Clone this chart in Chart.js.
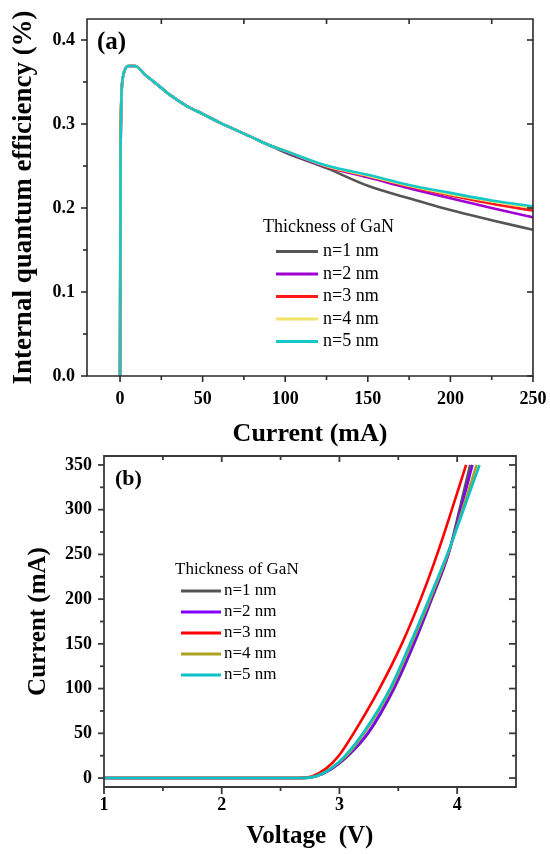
<!DOCTYPE html>
<html>
<head>
<meta charset="utf-8">
<script src="https://cdn.jsdelivr.net/npm/chart.js@4.4.0/dist/chart.umd.min.js"></script>
<style>
  html, body { margin: 0; padding: 0; background: #ffffff; }
  #page { position: relative; width: 550px; height: 854px; }
  .panel { position: absolute; left: 0; }
</style>
</head>
<body>
<div id="page">
  <div class="panel" style="top:0;"><canvas id="iqe" width="550" height="450"></canvas></div>
  <div class="panel" style="top:450px;"><canvas id="iv" width="550" height="404"></canvas></div>
</div>
<script>
// ---------- Panel (a): internal quantum efficiency vs current ----------
const seriesLabels = ['n=1 nm', 'n=2 nm', 'n=3 nm', 'n=4 nm', 'n=5 nm'];

// shared low-current part (mA / %)
const iqeCurrentHead = [0, 0.3, 0.6, 1, 2, 3, 5, 9, 15, 20, 25, 30, 40, 50, 60, 70, 80, 90];
const iqeHead = [0, 0.24, 0.31, 0.34, 0.358, 0.365, 0.369, 0.369, 0.359, 0.351, 0.343, 0.335, 0.322, 0.312, 0.302, 0.293, 0.284, 0.275];
// high-current tails per GaN thickness
const iqeCurrentTail = [100, 125, 150, 175, 200, 225, 250];
const iqeN1 = [0.266, 0.2475, 0.2265, 0.2115, 0.1975, 0.1855, 0.174];
const iqeN2 = [0.2675, 0.249, 0.2365, 0.2235, 0.2115, 0.2, 0.189];
const iqeN3 = [0.268, 0.2495, 0.238, 0.2255, 0.215, 0.205, 0.197];
const iqeN4 = [0.268, 0.25, 0.2385, 0.2265, 0.2165, 0.208, 0.2];
const iqeN5 = [0.268, 0.2505, 0.2395, 0.2275, 0.218, 0.209, 0.202];

const iqeXTicks = [0, 50, 100, 150, 200, 250];
const iqeYTicks = [0, 0.1, 0.2, 0.3, 0.4];
const iqeColors = ['#555555', '#a000d2', '#ff1a1a', '#f2e36a', '#14c8c8'];

// ---------- Panel (b): current vs voltage ----------
const ivCurrent = [0, 0, 2, 10, 25, 50, 100, 150, 200, 250, 300, 350];
const ivVoltN1 = [1, 2.68, 2.8, 2.93, 3.075, 3.245, 3.465, 3.635, 3.785, 3.925, 4.02, 4.11];
const ivVoltN2 = [1, 2.68, 2.8, 2.93, 3.07, 3.24, 3.46, 3.63, 3.78, 3.925, 4.03, 4.13];
const ivVoltN3 = [1, 2.65, 2.77, 2.88, 2.995, 3.12, 3.34, 3.53, 3.69, 3.83, 3.955, 4.076];
const ivVoltN4 = [1, 2.68, 2.8, 2.92, 3.06, 3.21, 3.44, 3.61, 3.77, 3.92, 4.045, 4.165];
const ivVoltN5 = [1, 2.68, 2.8, 2.92, 3.05, 3.2, 3.43, 3.6, 3.76, 3.915, 4.055, 4.19];

const ivXTicks = [1, 2, 3, 4];
const ivYTicks = [0, 50, 100, 150, 200, 250, 300, 350];
const ivColors = ['#555555', '#8000ff', '#ff0000', '#ada21e', '#08c2c8'];

const legendTitle = 'Thickness of GaN';

// ---------- helpers ----------
const SERIF = "'Liberation Serif', 'Times New Roman', serif";

function zipXY(xs, ys) { return xs.map((x, i) => ({ x: x, y: ys[i] })); }

// later series are painted over earlier ones (order: lower value is drawn last)
function makeDatasets(points, colors, width) {
  return points.map((pts, i) => ({
    label: seriesLabels[i],
    data: pts,
    order: points.length - i,
    borderColor: colors[i],
    backgroundColor: colors[i],
    borderWidth: width,
    pointRadius: 0,
    fill: false,
    cubicInterpolationMode: 'monotone'
  }));
}

// frame around the plot plus tick marks (outward on left/bottom, inward on top/right)
const frameTicks = {
  id: 'frameTicks',
  afterDatasetsDraw(chart, args, o) {
    const { ctx, chartArea: a, scales: { x, y } } = chart;
    ctx.save();
    ctx.strokeStyle = o.color;
    ctx.lineWidth = o.width;
    ctx.lineCap = 'butt';
    const seg = (x1, y1, x2, y2) => { ctx.beginPath(); ctx.moveTo(x1, y1); ctx.lineTo(x2, y2); ctx.stroke(); };
    o.left.forEach(([v, len]) => { const p = y.getPixelForValue(v); seg(a.left - len, p, a.left, p); });
    o.right.forEach(([v, len]) => { const p = y.getPixelForValue(v); seg(a.right, p, a.right - len, p); });
    o.bottom.forEach(([v, len]) => { const p = x.getPixelForValue(v); seg(p, a.bottom, p, a.bottom + len); });
    o.top.forEach(([v, len]) => { const p = x.getPixelForValue(v); seg(p, a.top, p, a.top + len); });
    ctx.beginPath();
    ctx.rect(a.left, a.top, a.right - a.left, a.bottom - a.top);
    ctx.stroke();
    // panel tag
    ctx.fillStyle = '#000';
    ctx.font = 'bold ' + o.tagSize + 'px ' + SERIF;
    ctx.textBaseline = 'middle';
    ctx.textAlign = 'left';
    ctx.fillText(o.tag, a.left + o.tagDx, a.top + o.tagDy);
    ctx.restore();
  }
};

// legend block drawn inside the plot, in series order
const innerLegend = {
  id: 'innerLegend',
  afterDatasetsDraw(chart, args, o) {
    const ctx = chart.ctx;
    ctx.save();
    ctx.fillStyle = '#000';
    ctx.textBaseline = 'middle';
    ctx.textAlign = 'left';
    ctx.font = o.size + 'px ' + SERIF;
    ctx.fillText(legendTitle, o.titleX, o.titleY);
    chart.data.datasets.forEach((ds, i) => {
      const yy = o.rowY + i * o.rowGap;
      ctx.strokeStyle = ds.borderColor;
      ctx.lineWidth = o.lineWidth;
      ctx.beginPath();
      ctx.moveTo(o.lineX0, yy);
      ctx.lineTo(o.lineX1, yy);
      ctx.stroke();
      ctx.fillText(ds.label, o.textX, yy);
    });
    ctx.restore();
  }
};

function fixedTicks(values) {
  return (scale) => { scale.ticks = values.map(v => ({ value: v })); };
}

// fixed axis box sizes; edge labels may overhang into the page margins
function fitY(width) {
  return (s) => { s.width = width; s.paddingTop = 0; s.paddingBottom = 0; };
}
function fitX(height) {
  return (s) => { s.height = height; s.paddingLeft = 0; s.paddingRight = 0; };
}

function rangeTicks(from, to, step, len) {
  const out = [];
  for (let v = from; v <= to + 1e-9; v += step) out.push([Math.round(v * 1000) / 1000, len]);
  return out;
}

// ---------- chart (a) ----------
const iqeTails = [iqeN1, iqeN2, iqeN3, iqeN4, iqeN5];
const iqePoints = iqeTails.map(tail => zipXY(iqeCurrentHead.concat(iqeCurrentTail), iqeHead.concat(tail)));

new Chart(document.getElementById('iqe'), {
  type: 'line',
  data: { datasets: makeDatasets(iqePoints, iqeColors, 2.6) },
  options: {
    responsive: false,
    animation: false,
    devicePixelRatio: 1,
    layout: { padding: { left: 0, top: 19, right: 17, bottom: 0 } },
    plugins: {
      legend: { display: false },
      tooltip: { enabled: false },
      frameTicks: {
        color: '#2b2b2b', width: 1.6,
        left: rangeTicks(0, 0.4, 0.1, 6).concat(rangeTicks(0.05, 0.35, 0.1, 4)),
        right: rangeTicks(0, 0.4, 0.1, 6),
        bottom: rangeTicks(0, 250, 50, 6).concat(rangeTicks(25, 225, 50, 4)),
        top: rangeTicks(25, 225, 50, 5),
        tag: '(a)', tagSize: 25, tagDx: 10, tagDy: 24
      },
      innerLegend: {
        size: 18, titleX: 263, titleY: 227,
        rowY: 251.5, rowGap: 22.5, lineX0: 276, lineX1: 318, textX: 323, lineWidth: 3
      }
    },
    scales: {
      x: {
        type: 'linear', min: -20, max: 250,
        afterBuildTicks: fixedTicks(iqeXTicks),
        afterFit: fitX(74),
        grid: { display: false, drawTicks: false },
        border: { display: false },
        ticks: { padding: 13, color: '#000', font: { family: SERIF, size: 18, weight: 'bold' },
                 callback: (v) => String(v) },
        title: { display: true, text: 'Current (mA)', color: '#000',
                 font: { family: SERIF, size: 26, weight: 'bold' }, padding: { top: 0, bottom: 0 } }
      },
      y: {
        type: 'linear', min: 0, max: 0.425,
        afterBuildTicks: fixedTicks(iqeYTicks),
        afterFit: fitY(87),
        grid: { display: false, drawTicks: false },
        border: { display: false },
        ticks: { padding: 12, color: '#000', font: { family: SERIF, size: 18, weight: 'bold' },
                 callback: (v) => Number(v).toFixed(1) },
        title: { display: true, text: 'Internal quantum efficiency (%)', color: '#000',
                 font: { family: SERIF, size: 27, weight: 'bold' }, padding: { top: 8, bottom: 0 } }
      }
    }
  },
  plugins: [frameTicks, innerLegend]
});

// ---------- chart (b) ----------
const ivVolts = [ivVoltN1, ivVoltN2, ivVoltN3, ivVoltN4, ivVoltN5];
const ivPoints = ivVolts.map(v => zipXY(v, ivCurrent));

new Chart(document.getElementById('iv'), {
  type: 'line',
  data: { datasets: makeDatasets(ivPoints, ivColors, 2.6) },
  options: {
    responsive: false,
    animation: false,
    devicePixelRatio: 1,
    layout: { padding: { left: 0, top: 6, right: 34, bottom: 0 } },
    plugins: {
      legend: { display: false },
      tooltip: { enabled: false },
      frameTicks: {
        color: '#3a3a3a', width: 1.8,
        left: rangeTicks(0, 350, 50, 6).concat(rangeTicks(25, 325, 50, 4)),
        right: rangeTicks(0, 350, 50, 7).concat(rangeTicks(25, 325, 50, 4)),
        bottom: rangeTicks(1, 4, 1, 7).concat(rangeTicks(1.5, 4, 1, 4)),
        top: rangeTicks(2, 4, 1, 6).concat(rangeTicks(1.5, 4, 1, 4)),
        tag: '(b)', tagSize: 22, tagDx: 11, tagDy: 23
      },
      innerLegend: {
        size: 17, titleX: 175, titleY: 120,
        rowY: 141, rowGap: 21, lineX0: 181, lineX1: 221, textX: 224, lineWidth: 3
      }
    },
    scales: {
      x: {
        type: 'linear', min: 1, max: 4.5,
        afterBuildTicks: fixedTicks(ivXTicks),
        afterFit: fitX(67),
        grid: { display: false, drawTicks: false },
        border: { display: false },
        ticks: { padding: 8, color: '#000', font: { family: SERIF, size: 18, weight: 'bold' },
                 callback: (v) => String(v) },
        title: { display: true, text: 'Voltage  (V)', color: '#000',
                 font: { family: SERIF, size: 25, weight: 'bold' }, padding: { top: 0, bottom: 2 } }
      },
      y: {
        type: 'linear', min: -10, max: 360,
        afterBuildTicks: fixedTicks(ivYTicks),
        afterFit: fitY(104),
        grid: { display: false, drawTicks: false },
        border: { display: false },
        ticks: { padding: 12, color: '#000', font: { family: SERIF, size: 18, weight: 'bold' },
                 callback: (v) => String(v) },
        title: { display: true, text: 'Current (mA)', color: '#000',
                 font: { family: SERIF, size: 25, weight: 'bold' }, padding: { top: 24, bottom: 0 } }
      }
    }
  },
  plugins: [frameTicks, innerLegend]
});
</script>
</body>
</html>
